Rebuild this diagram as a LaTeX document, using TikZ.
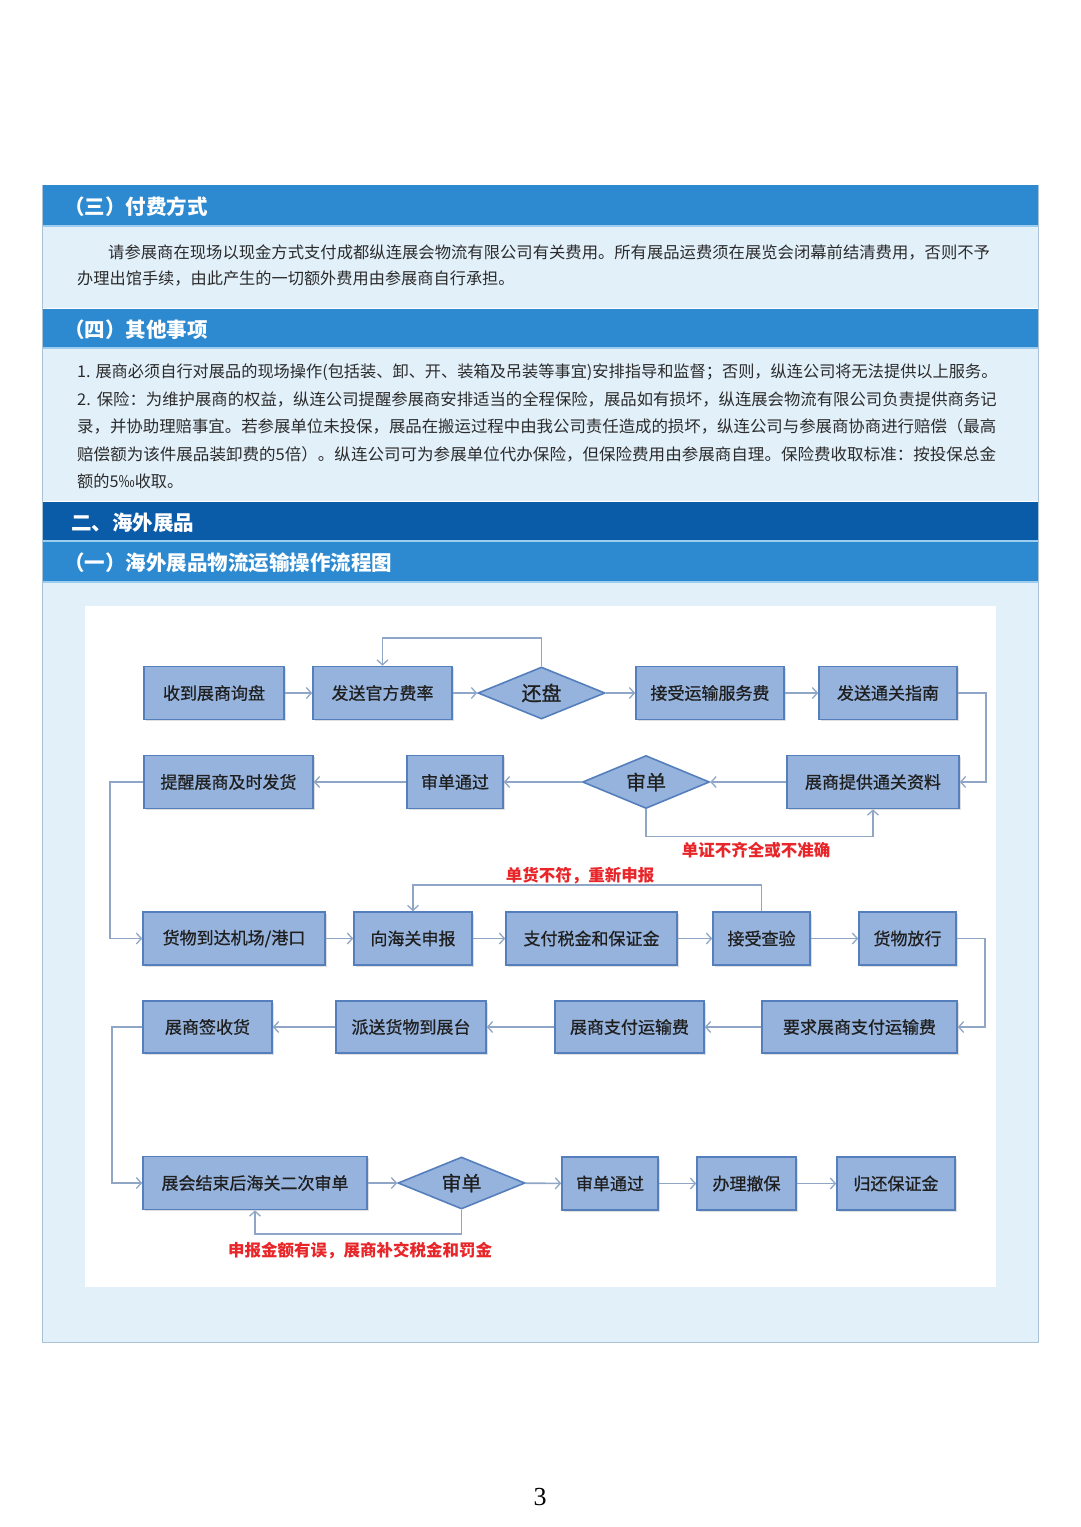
\documentclass[tikz,border=0pt]{standalone}
\usepackage{graphicx}
\usepackage{fontspec}
\setmainfont{Noto Sans CJK SC}
\newfontfamily\boxfont[FakeBold=0.7]{Noto Sans CJK SC}
\newfontfamily\numfont{Liberation Serif}
\usetikzlibrary{arrows.meta,shapes.geometric,shadows,calc}
\definecolor{hdrblue}{HTML}{2E8AD0}
\definecolor{hdrdark}{HTML}{0B5CA8}
\definecolor{hdrline}{HTML}{9CCDEF}
\definecolor{panel}{HTML}{E2F0FA}
\definecolor{panelborder}{HTML}{A9C2D6}
\definecolor{boxfill}{HTML}{95B3DD}
\definecolor{boxdraw}{HTML}{557FBC}
\definecolor{arrowc}{HTML}{8FA6C6}
\definecolor{redlabel}{HTML}{E8262A}
\definecolor{bodytext}{HTML}{2B2B2B}
\tikzset{
  proc/.style={draw=boxdraw, line width=1.6pt, fill=boxfill, minimum height=53pt, inner sep=0pt,
    font=\boxfont\fontsize{17}{20}\selectfont, text=black!88,
    drop shadow={opacity=0.25, shadow xshift=1.5pt, shadow yshift=-1.5pt}},
  decide/.style={diamond, draw=boxdraw, line width=1.6pt, fill=boxfill, minimum width=127pt,
    minimum height=52pt, inner sep=0pt, aspect=2.4, font=\boxfont\fontsize{20}{22}\selectfont, text=black!88},
  arr/.style={draw=arrowc, line width=1.6pt, -{Straight Barb[length=5pt,width=11pt,line width=1.3pt]}},
  redlbl/.style={text=redlabel, font=\bfseries\fontsize{16.5}{18}\selectfont, inner sep=0pt},
  hdr/.style={anchor=west, text=white, font=\bfseries\fontsize{20.5}{22}\selectfont, inner sep=0pt},
  body/.style={anchor=west, text=bodytext, font=\fontsize{16.2}{18}\selectfont, inner sep=0pt}
}
\begin{document}
\begin{tikzpicture}[x=1pt,y=-1pt]
\useasboundingbox (0,0) rectangle (1080,1527);
\fill[white] (0,0) rectangle (1080,1527);
% panels
\fill[hdrblue] (42,185) rectangle (1038,226);
\fill[panel] (42,226) rectangle (1038,308);
\fill[hdrblue] (42,309) rectangle (1038,348);
\fill[panel] (42,348) rectangle (1038,501);
\fill[hdrdark] (42,502) rectangle (1038,541);
\fill[hdrblue] (42,542) rectangle (1038,582);
\fill[panel] (42,582) rectangle (1038,1342);
\draw[hdrline, line width=1.5pt] (42,226) -- (1038,226);
\draw[hdrline, line width=1.5pt] (42,348) -- (1038,348);
\draw[hdrline, line width=1.5pt] (42,541) -- (1038,541);
\draw[hdrline, line width=1.5pt] (42,582) -- (1038,582);
\draw[panelborder, line width=1pt] (42,185) -- (42,1342) -- (1038,1342) -- (1038,185);
% headers
\node[hdr] (h3) at (64,207) {（三）付费方式};
\node[hdr] (h4) at (64,330) {（四）其他事项};
\node[hdr] (h2) at (71,523) {二、海外展品};
\node[hdr] (h1) at (64,563) {（一）海外展品物流运输操作流程图};
% body text
\node[body] (p1a) at (108,252) {\scalebox{1.008}[1]{请参展商在现场以现金方式支付成都纵连展会物流有限公司有关费用。所有展品运费须在展览会闭幕前结清费用，否则不予}};
\node[body] (p1b) at (77,279) {办理出馆手续，由此产生的一切额外费用由参展商自行承担。};
\node[body] (p2a) at (77,372) {1. 展商必须自行对展品的现场操作(包括装、卸、开、装箱及吊装等事宜)安排指导和监督；否则，纵连公司将无法提供以上服务。};
\node[body] (p2b) at (77,399) {\scalebox{1.01}[1]{2.\hspace{6pt}保险：为维护展商的权益，纵连公司提醒参展商安排适当的全程保险，展品如有损坏，纵连展会物流有限公司负责提供商务记}};
\node[body] (p2c) at (77,426) {\scalebox{1.013}[1]{录，并协助理赔事宜。若参展单位未投保，展品在搬运过程中由我公司责任造成的损坏，纵连公司与参展商协商进行赔偿（最高}};
\node[body] (p2d) at (77,454) {\scalebox{1.021}[1]{赔偿额为该件展品装卸费的5倍）。纵连公司可为参展单位代办保险，但保险费用由参展商自理。保险费收取标准：按投保总金}};
\node[body] (p2e) at (77,481) {额的5‰收取。};
% chart area
\fill[white] (85,606) rectangle (996,1287);
% row 1
\node[proc, minimum width=140pt] (n11) at (214,693) {收到展商询盘};
\node[proc, minimum width=139pt] (n12) at (382.5,693) {发送官方费率};
\node[decide] (d1) at (541.5,693) {还盘};
\node[proc, minimum width=148pt] (n14) at (710,693) {接受运输服务费};
\node[proc, minimum width=138pt] (n15) at (888,693) {发送通关指南};
% row 2
\node[proc, minimum width=169pt] (n21) at (228.5,782) {提醒展商及时发货};
\node[proc, minimum width=96pt] (n22) at (455,782) {审单通过};
\node[decide, minimum height=53pt] (d2) at (646,782) {审单};
\node[proc, minimum width=172pt] (n24) at (873,782) {展商提供通关资料};
% row 3
\node[proc, minimum width=182pt] (n31) at (234,938.5) {货物到达机场/港口};
\node[proc, minimum width=118pt] (n32) at (413,938.5) {向海关申报};
\node[proc, minimum width=171pt] (n33) at (591.5,938.5) {支付税金和保证金};
\node[proc, minimum width=97pt] (n34) at (761.5,938.5) {接受查验};
\node[proc, minimum width=97pt] (n35) at (907.5,938.5) {货物放行};
% row 4
\node[proc, minimum width=129pt, minimum height=52pt] (n41) at (207.5,1027) {展商签收货};
\node[proc, minimum width=150pt, minimum height=52pt] (n42) at (411,1027) {派送货物到展台};
\node[proc, minimum width=149pt, minimum height=52pt] (n43) at (629.5,1027) {展商支付运输费};
\node[proc, minimum width=195pt, minimum height=52pt] (n44) at (859.5,1027) {要求展商支付运输费};
% row 5
\node[proc, minimum width=224pt] (n51) at (255,1183) {展会结束后海关二次审单};
\node[decide] (d5) at (461.5,1183) {审单};
\node[proc, minimum width=96pt] (n53) at (610,1183.5) {审单通过};
\node[proc, minimum width=99pt] (n54) at (746.5,1183.5) {办理撤保};
\node[proc, minimum width=118pt] (n55) at (896,1183.5) {归还保证金};
% connectors row 1
\draw[arr] (n11) -- (n12);
\draw[arr] (n12) -- (d1);
\draw[arr] (d1) -- (n14);
\draw[arr] (n14) -- (n15);
\draw[arr] (d1.north) -- ++(0,-28) -| (n12.north);
\draw[arr] (n15.east) -- ++(28,0) |- (n24.east);
% row 2
\draw[arr] (n24) -- (d2);
\draw[arr] (d2) -- (n22);
\draw[arr] (n22) -- (n21);
\draw[arr] (d2.south) -- ++(0,27) -| (n24.south);
\node[redlbl] (l1) at (756,850) {单证不齐全或不准确};
\draw[arr] (n21.west) -- ++(-33,0) |- (n31.west);
% row 3
\draw[arr] (n31) -- (n32);
\draw[arr] (n32) -- (n33);
\draw[arr] (n33) -- (n34);
\draw[arr] (n34) -- (n35);
\draw[arr] (n34.north) -- ++(0,-26) -| (n32.north);
\node[redlbl] (l2) at (580,876) {单货不符，重新申报};
\draw[arr] (n35.east) -- ++(28,0) |- (n44.east);
% row 4
\draw[arr] (n44) -- (n43);
\draw[arr] (n43) -- (n42);
\draw[arr] (n42) -- (n41);
\draw[arr] (n41.west) -- ++(-30,0) |- (n51.west);
% row 5
\draw[arr] (n51) -- (d5);
\draw[arr] (d5) -- (n53);
\draw[arr] (n53) -- (n54);
\draw[arr] (n54) -- (n55);
\draw[arr] (d5.south) -- ++(0,24) -| (n51.south);
\node[redlbl] (l3) at (360,1251) {申报金额有误，展商补交税金和罚金};
% page number
\node[font=\numfont\fontsize{26}{28}\selectfont, inner sep=0pt] (pg) at (540,1497) {3};
\end{tikzpicture}
\end{document}
